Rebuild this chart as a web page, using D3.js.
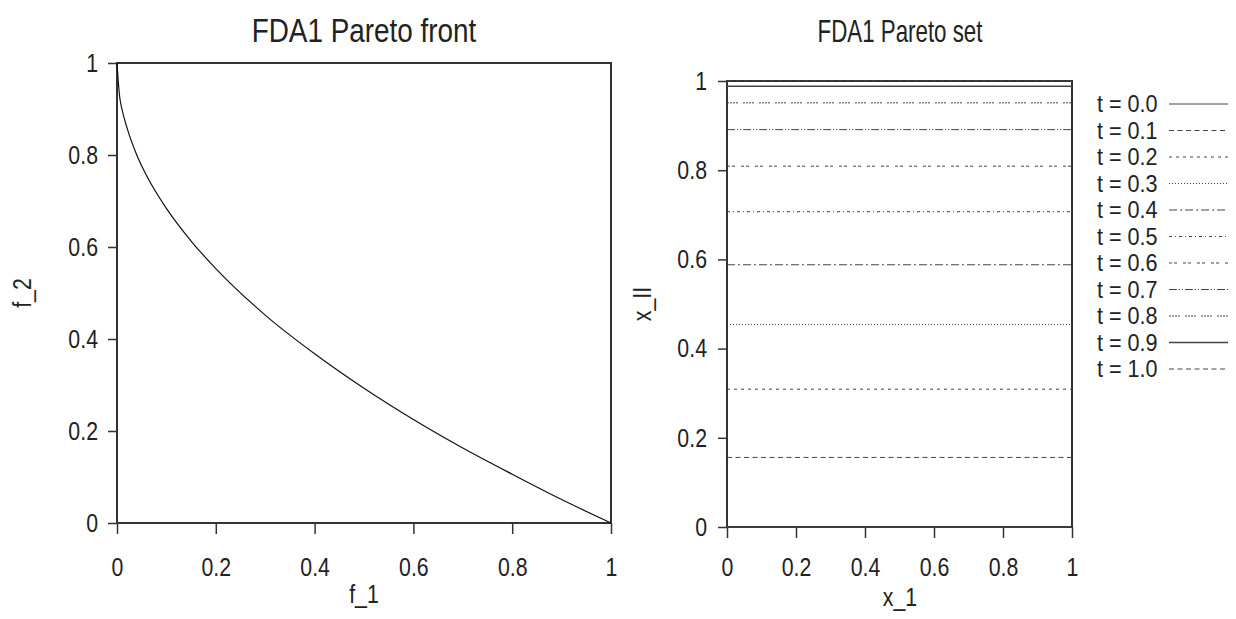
<!DOCTYPE html>
<html lang="en">
<head>
<meta charset="utf-8">
<title>FDA1</title>
<script src="https://cdn.jsdelivr.net/npm/d3@7"></script>
<style>
  body { margin: 0; background: #fff; }
  text { font-family: "Liberation Sans", Arial, sans-serif; fill: #222; }
</style>
</head>
<body>
<svg id="chart" width="1236" height="619"></svg>
<script>
// Pareto front points
var f1Values = [0, 0.005, 0.01, 0.02, 0.04, 0.06, 0.1, 0.15, 0.2, 0.3, 0.4, 0.5, 0.6, 0.7, 0.8, 0.9, 1];
var f2Values = [1, 0.93, 0.9, 0.86, 0.8, 0.755, 0.684, 0.613, 0.553, 0.452, 0.368, 0.293, 0.225, 0.163, 0.106, 0.051, 0];

// Pareto set: one horizontal line per time step
var tLabels = ["0.0", "0.1", "0.2", "0.3", "0.4", "0.5", "0.6", "0.7", "0.8", "0.9", "1.0"];
var xIIValues = [0, 0.156, 0.309, 0.454, 0.588, 0.707, 0.809, 0.891, 0.951, 0.988, 1.0];
var x1Range = [0, 1];
var tickValues = [0, 0.2, 0.4, 0.6, 0.8, 1];

// dash patterns per t, like R lty cycling
var dashes = [null, "5,3.5", "3,4", "1,2", "8,3,2,3", "3,3,1,3", "3,2,3,6", "8,2,1,2,1,2", "2,1,2,1,2,1,2,5", null, "5,3.5"];

var NARROW = 0.82; // the reference text is condensed
var svg = d3.select("#chart");

// text squeezed horizontally to look like a narrow face
function label(x, y, str, size, anchor, rot, sx) {
  var g = svg.append("g").attr("transform", "translate(" + x + "," + y + ")" + (rot ? " rotate(" + rot + ")" : ""));
  g.append("text").attr("transform", "scale(" + (sx || NARROW) + ",1)")
    .attr("text-anchor", anchor || "middle").attr("font-size", size).text(str);
  return g;
}

function squeeze(a) {
  a.selectAll("text").each(function () {
    var t = d3.select(this);
    var x = +t.attr("x") || 0;
    t.attr("x", x / NARROW).attr("transform", "scale(" + NARROW + ",1)")
      .attr("font-size", 26).style("fill", "#222");
  });
}

function panel(left, right, top, bottom, ypad, xpad) {
  var x = d3.scaleLinear().domain([0, 1]).range([left, right]);
  var y = d3.scaleLinear().domain([0, 1]).range([bottom, top]);
  var g = svg.append("g");

  g.append("g")
    .attr("transform", "translate(0," + bottom + ")")
    .call(d3.axisBottom(x).tickValues(tickValues).tickFormat(d3.format("~g")).tickSize(11).tickPadding(xpad))
    .call(function (a) {
      a.select(".domain").remove();
      a.selectAll("line").attr("stroke", "#333").attr("stroke-width", 1.5);
      squeeze(a);
    });
  g.append("g")
    .attr("transform", "translate(" + left + ",0)")
    .call(d3.axisLeft(y).tickValues(tickValues).tickFormat(d3.format("~g")).tickSize(9).tickPadding(ypad))
    .call(function (a) {
      a.select(".domain").remove();
      a.selectAll("line").attr("stroke", "#333").attr("stroke-width", 1.5);
      squeeze(a);
    });

  g.append("rect")
    .attr("x", left).attr("y", top)
    .attr("width", right - left).attr("height", bottom - top)
    .attr("fill", "none").attr("stroke", "#333").attr("stroke-width", 2);

  return { x: x, y: y, g: g };
}

// left panel: front
var p1 = panel(117, 611, 63, 523, 10, 24);
label(364, 42, "FDA1 Pareto front", 34);
label(364, 603, "f_1", 26);
label(31, 293, "f_2", 26, "middle", -90);

var front = f1Values.map(function (d, i) { return [d, f2Values[i]]; });
p1.g.append("path")
  .datum(front)
  .attr("fill", "none").attr("stroke", "#111").attr("stroke-width", 1.2)
  .attr("d", d3.line().x(function (d) { return p1.x(d[0]); }).y(function (d) { return p1.y(d[1]); }).curve(d3.curveMonotoneX));

// right panel: set
var p2 = panel(727, 1072, 81, 527, 11, 20);
label(900, 42, "FDA1 Pareto set", 31, "middle", 0, 0.72);
label(900, 606, "x_1", 26);
label(651, 304, "x_II", 26, "middle", -90);

xIIValues.forEach(function (v, i) {
  var pts = x1Range.map(function (d) { return [d, v]; });
  p2.g.append("path")
    .datum(pts)
    .attr("fill", "none").attr("stroke", "#444")
    .attr("stroke-width", i === 9 ? 1.5 : 1)
    .attr("stroke-dasharray", dashes[i])
    .attr("d", d3.line().x(function (d) { return p2.x(d[0]); }).y(function (d) { return p2.y(d[1]); }));
});

// legend
tLabels.forEach(function (lab, i) {
  var yy = 104 + i * 26.5;
  label(1097, yy + 8, "t = " + lab, 24, "start", 0, 0.9);
  svg.append("line")
    .attr("x1", 1169).attr("x2", 1228).attr("y1", yy).attr("y2", yy)
    .attr("stroke", "#444").attr("stroke-width", i === 9 ? 1.5 : 1)
    .attr("stroke-dasharray", dashes[i]);
});
</script>
</body>
</html>
